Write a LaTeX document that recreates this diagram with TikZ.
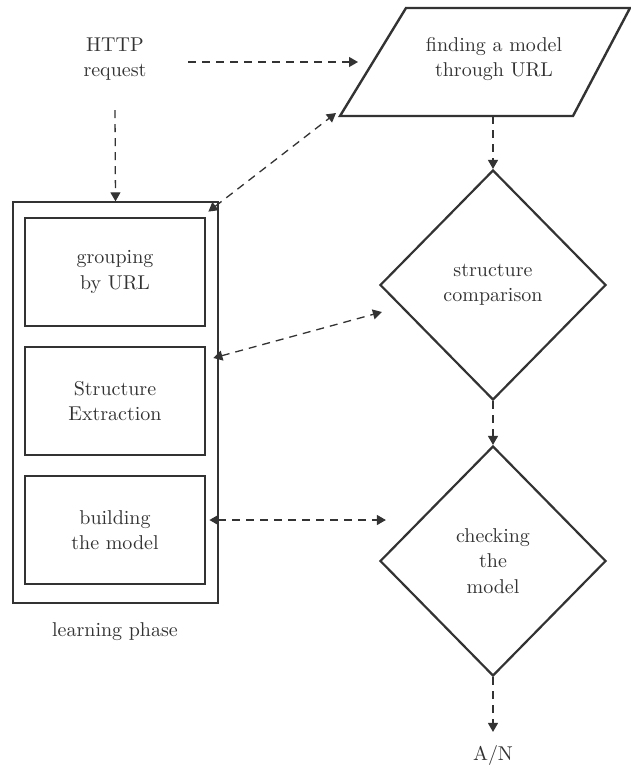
\documentclass[tikz,border=0pt]{standalone}
\usepackage{tikz}
\usetikzlibrary{calc,shapes.geometric,arrows.meta}
\definecolor{ink}{HTML}{333333}

\begin{document}
\begin{tikzpicture}[x=0.5pt,y=-0.5pt,
    every node/.style={text=ink,align=center,font=\fontsize{10}{12.6}\selectfont},
    stepbox/.style={draw=ink,line width=1.4pt,minimum width=90pt,minimum height=54pt},
    choice/.style={diamond,draw=ink,line width=1.1pt,minimum width=113pt,minimum height=115pt,inner sep=0pt},
    link/.style={draw=ink,line width=0.65pt,dash pattern=on 4pt off 3pt,-{Triangle[length=4.5pt,width=5pt]}},
    twolink/.style={link,{Triangle[length=4.5pt,width=5pt]}-{Triangle[length=4.5pt,width=5pt]}}]
  \useasboundingbox (0,0) rectangle (631,773);

  %% Learning phase: frame and its three steps
  \node[draw=ink,line width=0.7pt,minimum width=102.5pt,minimum height=200.5pt] (learn) at (115.5,402.5) {};
  \node (learnlabel) at (115,632) {learning phase};
  \foreach \n/\y/\txt in {group/272/{grouping\\by URL},
                          extract/401/{Structure\\Extraction},
                          build/530/{building\\the model}}
  {
    \node[stepbox] (\n) at (115,\y) {\txt};
  }

  %% Request and model lookup
  \node (http) at (115,59) {HTTP\\request};
  \coordinate (findBL) at (340,116);
  \coordinate (findBR) at (573,116);
  \coordinate (findTR) at (630,8);
  \coordinate (findTL) at (406,8);
  \draw[ink,line width=1.2pt] (findBL) -- (findBR) -- (findTR) -- (findTL) -- cycle;
  \node (find) at (494,59) {finding a model\\through URL};
  \coordinate (findS) at (493,116);
  \coordinate (findW) at (358,62);
  \coordinate (httpE) at (188,62);
  \coordinate (httpS) at (115,110);

  %% Decisions
  \node[choice] (compare) at (493,285) {structure\\comparison};
  \node[choice] (check) at (493,561) {checking\\the\\model};
  \node (an) at (493,755) {A/N};

  %% Links
  \draw[link] (httpE) -- (findW);
  \draw[link] (httpS) -- (learn.north);
  \draw[twolink] ($(group.north east)+(2,-5)$) -- ($(findBL)+(-4,-3)$);
  \draw[twolink] ($(extract.east)+(7,-43)$) -- ($(compare.west)+(3,27)$);
  \draw[twolink] ($(build.east)+(3,-10)$) -- ($(check.west)+(7,-41)$);
  \draw[link] (findS) -- (compare.north);
  \draw[link] (compare.south) -- (check.north);
  \draw[link,shorten >=3pt] (check.south) -- (an.north);

\end{tikzpicture}
\end{document}
